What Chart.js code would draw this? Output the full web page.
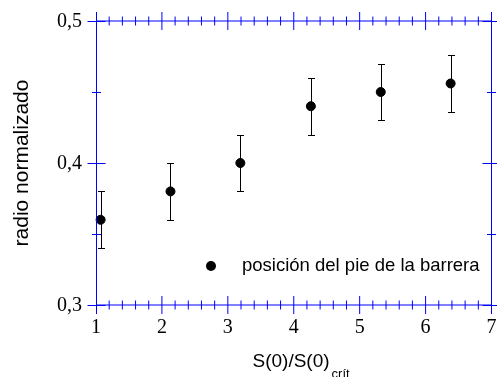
<!DOCTYPE html>
<html>
<head>
<meta charset="utf-8">
<script src="https://cdn.jsdelivr.net/npm/chart.js@4/dist/chart.umd.min.js"></script>
<style>
    body { margin: 0; background: #fff; }
    canvas { display: block; }
</style>
</head>
<body>
<canvas id="theGraph" width="497" height="377"></canvas>
<script>
// S(0)/S(0)crit values and measured normalized radius
var ratio = [1.07, 2.13, 3.19, 4.26, 5.32, 6.38];
var radius = [0.36, 0.38, 0.40, 0.44, 0.45, 0.456];
var radiusError = [0.02, 0.02, 0.02, 0.02, 0.02, 0.02];

var xTicks = [1, 2, 3, 4, 5, 6, 7];
var xMinorStep = 0.2;
var yTicks = [0.3, 0.4, 0.5];
var yMinorStep = 0.05;

var legendLabel = "posición del pie de la barrera";
var yTitle = "radio normalizado";

var axisBlue = "#0000ff";
var sansFont = '"Liberation Sans", Arial, sans-serif';
var serifFont = '"Liberation Serif", "Times New Roman", serif';

function drawErrorBars(chart) {
    var ctx = chart.ctx;
    var xs = chart.scales.x, ys = chart.scales.y;
    ctx.save();
    ctx.strokeStyle = "#000";
    ctx.lineWidth = 1;
    for (var i = 0; i < ratio.length; i++) {
        var px = Math.round(xs.getPixelForValue(ratio[i])) + 0.5;
        var top = Math.round(ys.getPixelForValue(radius[i] + radiusError[i])) + 0.5;
        var bot = Math.round(ys.getPixelForValue(radius[i] - radiusError[i])) + 0.5;
        ctx.beginPath();
        ctx.moveTo(px, top); ctx.lineTo(px, bot);
        ctx.moveTo(px - 3.5, top); ctx.lineTo(px + 3.5, top);
        ctx.moveTo(px - 3.5, bot); ctx.lineTo(px + 3.5, bot);
        ctx.stroke();
    }
    ctx.restore();
}

function drawFrame(chart) {
    var ctx = chart.ctx;
    var xs = chart.scales.x, ys = chart.scales.y;
    var a = chart.chartArea;
    var left = Math.round(a.left) + 0.5, right = a.right;
    var top = a.top, bottom = a.bottom;
    var major = 9, minor = 4.5;

    ctx.save();
    ctx.strokeStyle = axisBlue;
    ctx.lineWidth = 1;
    ctx.beginPath();
    ctx.moveTo(left, top); ctx.lineTo(right, top);
    ctx.moveTo(left, bottom); ctx.lineTo(right, bottom);
    ctx.moveTo(left, top); ctx.lineTo(left, bottom);
    ctx.moveTo(right, top); ctx.lineTo(right, bottom);

    // ticks on top and bottom, crossing the axis lines
    var steps = Math.round((xs.max - xs.min) / xMinorStep);
    for (var i = 0; i <= steps; i++) {
        var v = xs.min + i * xMinorStep;
        var isMajor = Math.abs(v - Math.round(v)) < 1e-6;
        var px = xs.getPixelForValue(v);
        if (i === 0) px = left;
        var len = isMajor ? major : minor;
        ctx.moveTo(px, top - len); ctx.lineTo(px, top + len);
        ctx.moveTo(px, bottom - len); ctx.lineTo(px, bottom + len);
    }
    // ticks on left and right
    var ySteps = Math.round((ys.max - ys.min) / yMinorStep);
    for (var j = 0; j <= ySteps; j++) {
        var yv = ys.min + j * yMinorStep;
        var py = Math.round(ys.getPixelForValue(yv)) + 0.5;
        var yLen = (j % 2 === 0) ? major : minor;
        ctx.moveTo(left - yLen, py); ctx.lineTo(left + yLen, py);
        ctx.moveTo(right - yLen, py); ctx.lineTo(right + yLen, py);
    }
    ctx.stroke();

    // tick labels
    ctx.fillStyle = "#000";
    ctx.font = "20px " + serifFont;
    ctx.textAlign = "center";
    ctx.textBaseline = "alphabetic";
    xTicks.forEach(function (t) {
        ctx.fillText(String(t), xs.getPixelForValue(t), bottom + 28);
    });
    ctx.textAlign = "right";
    yTicks.forEach(function (t) {
        ctx.fillText(t.toFixed(1).replace(".", ","), 82, ys.getPixelForValue(t) + 5.5);
    });

    // x axis title with subscript
    ctx.textAlign = "left";
    ctx.font = "19px " + sansFont;
    var main = "S(0)/S(0)";
    ctx.fillText(main, 252.5, 367);
    var w = ctx.measureText(main).width;
    ctx.font = "13px " + sansFont;
    ctx.fillText("crít", 252.5 + w + 2, 378);

    // y axis title
    ctx.save();
    ctx.translate(27.5, (top + bottom) / 2);
    ctx.rotate(-Math.PI / 2);
    ctx.font = "21px " + sansFont;
    ctx.textAlign = "center";
    ctx.fillText(yTitle, 0, 0);
    ctx.restore();

    // legend
    ctx.beginPath();
    ctx.arc(211, 266, 5, 0, Math.PI * 2);
    ctx.fill();
    ctx.font = "18.5px " + sansFont;
    ctx.textAlign = "left";
    ctx.fillText(legendLabel, 242, 270.5);
    ctx.restore();
}

var extras = {
    id: "extras",
    beforeDatasetsDraw: function (chart) { drawErrorBars(chart); },
    afterDraw: function (chart) { drawFrame(chart); }
};

var ctx = document.getElementById("theGraph").getContext("2d");
var theGraph = new Chart(ctx, {
    type: "scatter",
    data: {
        datasets: [{
            label: legendLabel,
            data: ratio.map(function (r, i) { return { x: r, y: radius[i] }; }),
            pointRadius: 4.5,
            pointBorderWidth: 1,
            pointBackgroundColor: "#000",
            pointBorderColor: "#000",
            clip: false
        }]
    },
    options: {
        responsive: false,
        devicePixelRatio: 1,
        animation: false,
        layout: { padding: { left: 96, right: 1.5, top: 21, bottom: 72 } },
        plugins: {
            legend: { display: false },
            tooltip: { enabled: false }
        },
        scales: {
            x: { type: "linear", min: 1, max: 7, display: false },
            y: { type: "linear", min: 0.3, max: 0.5, display: false }
        }
    },
    plugins: [extras]
});
</script>
</body>
</html>
